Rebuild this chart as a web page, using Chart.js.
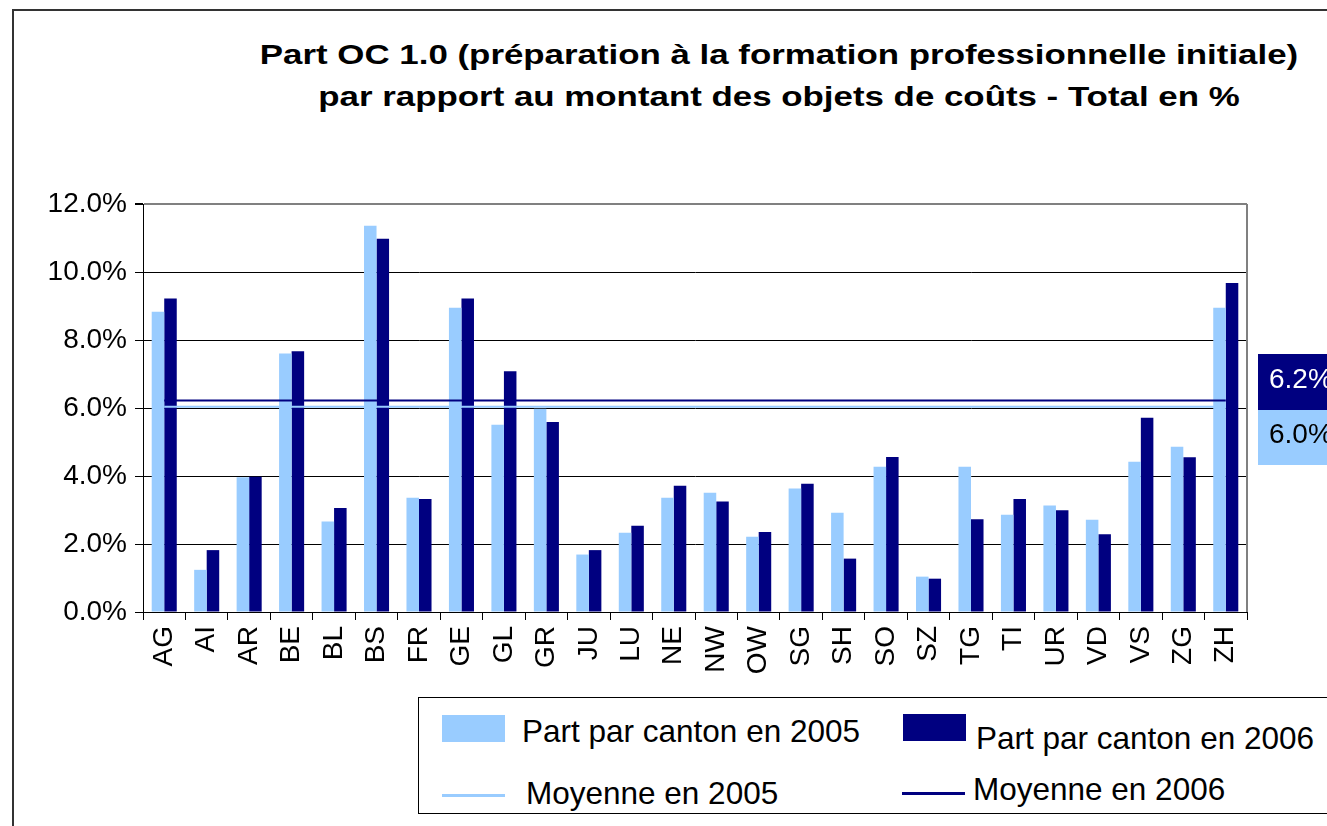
<!DOCTYPE html>
<html lang="fr">
<head>
<meta charset="utf-8">
<title>Part OC 1.0</title>
<script src="https://cdn.jsdelivr.net/npm/chart.js@4.4.1/dist/chart.umd.min.js"></script>
<style>
  html, body { margin: 0; padding: 0; background: #fff; }
  body { width: 1327px; height: 826px; position: relative; overflow: hidden; font-family: "Liberation Sans", Arial, sans-serif; }
  #frame { position: absolute; left: 12px; top: 9px; width: 2000px; height: 2000px; border-left: 2px solid #333; border-top: 2px solid #333; }
  #title { position: absolute; left: 179px; width: 1200px; top: 34px; text-align: center; font-weight: bold; font-size: 28px; line-height: 42px; white-space: nowrap; color: #000; transform: scaleX(1.245); transform-origin: 600px 0; }
  #chart { position: absolute; left: 0; top: 0; }
  #legend { position: absolute; left: 418px; top: 697px; width: 1000px; height: 117px; border: 1px solid #000; box-sizing: border-box; background: #fff; }
  .sw { position: absolute; }
  .lt { position: absolute; font-size: 31.5px; line-height: 34px; white-space: nowrap; color: #000; }
</style>
</head>
<body>
<div id="frame"></div>
<div id="title">Part OC 1.0 (préparation à la formation professionnelle initiale)<br>par rapport au montant des objets de coûts - Total en %</div>
<canvas id="chart" width="1327" height="826"></canvas>
<div id="legend"></div>
<script>
  // ------- Data -------
  const cantons = ['AG', 'AI', 'AR', 'BE', 'BL', 'BS', 'FR', 'GE', 'GL', 'GR', 'JU', 'LU', 'NE',
                   'NW', 'OW', 'SG', 'SH', 'SO', 'SZ', 'TG', 'TI', 'UR', 'VD', 'VS', 'ZG', 'ZH'];
  const part2005 = [8.83, 1.24, 3.96, 7.60, 2.66, 11.36, 3.36, 8.95, 5.51, 5.98, 1.69, 2.33, 3.36,
                    3.51, 2.21, 3.63, 2.92, 4.27, 1.04, 4.27, 2.86, 3.13, 2.71, 4.42, 4.86, 8.95];
  const part2006 = [9.22, 1.82, 3.98, 7.67, 3.06, 10.98, 3.32, 9.22, 7.08, 5.59, 1.82, 2.54, 3.71,
                    3.25, 2.35, 3.77, 1.57, 4.56, 0.98, 2.73, 3.32, 2.99, 2.29, 5.71, 4.55, 9.68];
  const avg2005 = 6.04;
  const avg2006 = 6.22;
  const yTicks = [0, 2, 4, 6, 8, 10, 12];

  const labels = {
    bar2005: 'Part par canton en 2005',
    bar2006: 'Part par canton en 2006',
    avg2005: 'Moyenne en 2005',
    avg2006: 'Moyenne en 2006'
  };

  const LIGHT = '#99CCFF';
  const DARK = '#000080';
  const FONT = '"Liberation Sans", Arial, sans-serif';

  // line from the first to the last canton
  function avgLine(v) {
    return [{ x: cantons[0], y: v }, { x: cantons[cantons.length - 1], y: v }];
  }

  // right border of plot + average value boxes
  const extras = {
    id: 'extras',
    beforeDatasetsDraw(chart) {
      const { ctx, chartArea: a } = chart;
      ctx.save();
      ctx.strokeStyle = '#808080';
      ctx.lineWidth = 2;
      ctx.beginPath();
      ctx.moveTo(a.right, a.top);
      ctx.lineTo(a.right, a.bottom);
      ctx.stroke();
      ctx.restore();
    },
    afterDraw(chart) {
      const { ctx, chartArea: a } = chart;
      const x0 = a.right + 11;
      const w = chart.width - x0 + 20;
      const boxes = [
        { top: a.top + 150, h: 56, bg: DARK, fg: '#fff', txt: avg2006.toFixed(1) + '%' },
        { top: a.top + 206, h: 55, bg: LIGHT, fg: '#000', txt: avg2005.toFixed(1) + '%' }
      ];
      ctx.save();
      ctx.font = '28px ' + FONT;
      ctx.textBaseline = 'middle';
      boxes.forEach(b => {
        ctx.fillStyle = b.bg;
        ctx.fillRect(x0, b.top, w, b.h);
        ctx.fillStyle = b.fg;
        ctx.fillText(b.txt, x0 + 11, b.top + b.h / 2 - 2);
      });
      ctx.restore();
    }
  };

  new Chart(document.getElementById('chart'), {
    type: 'bar',
    data: {
      labels: cantons,
      datasets: [
        { type: 'line', label: labels.avg2005, data: avgLine(avg2005), borderColor: LIGHT, borderWidth: 2, pointRadius: 0, fill: false, order: 0 },
        { type: 'line', label: labels.avg2006, data: avgLine(avg2006), borderColor: DARK, borderWidth: 2, pointRadius: 0, fill: false, order: 0 },
        { label: labels.bar2005, data: part2005, backgroundColor: LIGHT, order: 1 },
        { label: labels.bar2006, data: part2006, backgroundColor: DARK, order: 1 }
      ]
    },
    options: {
      responsive: false,
      animation: false,
      devicePixelRatio: 1,
      layout: { padding: { left: 13, top: 204, right: 80, bottom: 134 } },
      datasets: { bar: { categoryPercentage: 0.59, barPercentage: 1 } },
      plugins: {
        legend: { display: false },
        tooltip: { enabled: false },
        title: { display: false }
      },
      scales: {
        x: {
          ticks: { autoSkip: false, minRotation: 90, maxRotation: 90, color: '#000', padding: 6, font: { family: FONT, size: 28 } },
          grid: { drawOnChartArea: false, offset: true, tickLength: 8, color: '#000' },
          border: { color: '#000', width: 1 },
          afterFit: s => { s.height = 80; }
        },
        y: {
          min: 0,
          max: 12,
          afterBuildTicks: s => { s.ticks = yTicks.map(v => ({ value: v })); },
          ticks: { color: '#000', padding: 8, font: { family: FONT, size: 28 }, callback: v => Number(v).toFixed(1) + '%' },
          grid: {
            color: c => (c.tick && c.tick.value === 12 ? '#808080' : '#000'),
            lineWidth: c => (c.tick && c.tick.value === 12 ? 2 : 1),
            tickColor: '#000',
            tickLength: 8
          },
          border: { color: '#000', width: 1 },
          afterFit: s => { s.width = 130; }
        }
      }
    },
    plugins: [extras]
  });

  // ------- Legend (boxed, 2 x 2) -------
  const legendEl = document.getElementById('legend');
  const items = [
    { kind: 'box', color: LIGHT, sx: 23, sy: 17, text: labels.bar2005, tx: 103, ty: 16 },
    { kind: 'box', color: DARK, sx: 484, sy: 16, text: labels.bar2006, tx: 557, ty: 23 },
    { kind: 'line', color: LIGHT, sx: 23, sy: 96, text: labels.avg2005, tx: 107, ty: 78 },
    { kind: 'line', color: DARK, sx: 483, sy: 94, text: labels.avg2006, tx: 554, ty: 74 }
  ];
  items.forEach(it => {
    const sw = document.createElement('div');
    sw.className = 'sw';
    sw.style.left = it.sx + 'px';
    sw.style.top = it.sy + 'px';
    sw.style.width = '63px';
    sw.style.height = it.kind === 'box' ? '27px' : '3px';
    sw.style.background = it.color;
    legendEl.appendChild(sw);
    const t = document.createElement('span');
    t.className = 'lt';
    t.style.left = it.tx + 'px';
    t.style.top = it.ty + 'px';
    t.textContent = it.text;
    legendEl.appendChild(t);
  });
</script>
</body>
</html>
